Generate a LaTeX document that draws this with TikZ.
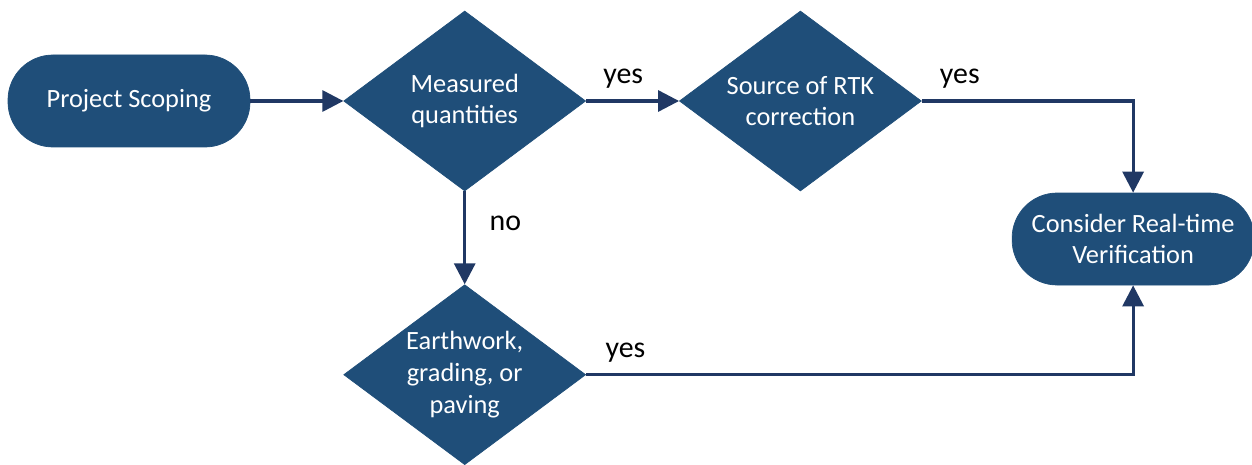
\documentclass[tikz,border=0pt]{standalone}
\usepackage{fontspec}
\setmainfont{Carlito}
\usetikzlibrary{arrows.meta,positioning,shapes.geometric}
\definecolor{boxblue}{HTML}{1F4E79}
\definecolor{linenavy}{HTML}{203864}

\begin{document}
\begin{tikzpicture}[
    font=\fontsize{15}{18}\selectfont,
    node distance=1.86cm,
    term/.style={draw=boxblue, fill=boxblue, text=white, rounded corners=9mm, align=center, minimum width=4.84cm, minimum height=1.84cm},
    decision/.style={diamond, aspect=1.34, draw=boxblue, fill=boxblue, text=white, align=center, inner sep=-2mm, minimum width=4.84cm, minimum height=3.6cm},
    arrow/.style={-{Triangle[length=4.2mm,width=4.2mm]}, line width=1.8pt, draw=linenavy},
    lbl/.style={text=black, font=\fontsize{17}{20}\selectfont}
]
\useasboundingbox (0,0) rectangle (25.04,-9.3);

\node[term] (scope) at (2.58,-2.02) {Project Scoping};
\node[decision, right=of scope] (measured) {Measured\\quantities};
\node[decision, right=of measured] (rtk) {Source of RTK\\correction};
\node[decision, below=of measured] (earth) {Earthwork,\\grading, or\\paving};
\node[term, right=1.8cm of rtk, yshift=-2.76cm] (verify) {Consider Real-time\\Verification};

\draw[arrow] (scope) -- (measured);
\draw[arrow] (measured) -- node[lbl, above=3pt, pos=0.4] {yes} (rtk);
\draw[arrow] (rtk) -| node[lbl, above=3pt, pos=0.09] {yes} (verify);
\draw[arrow] (measured) -- node[lbl, right=10pt, pos=0.34] {no} (earth);
\draw[arrow] (earth) -| node[lbl, above=3pt, pos=0.036] {yes} (verify);
\end{tikzpicture}
\end{document}
